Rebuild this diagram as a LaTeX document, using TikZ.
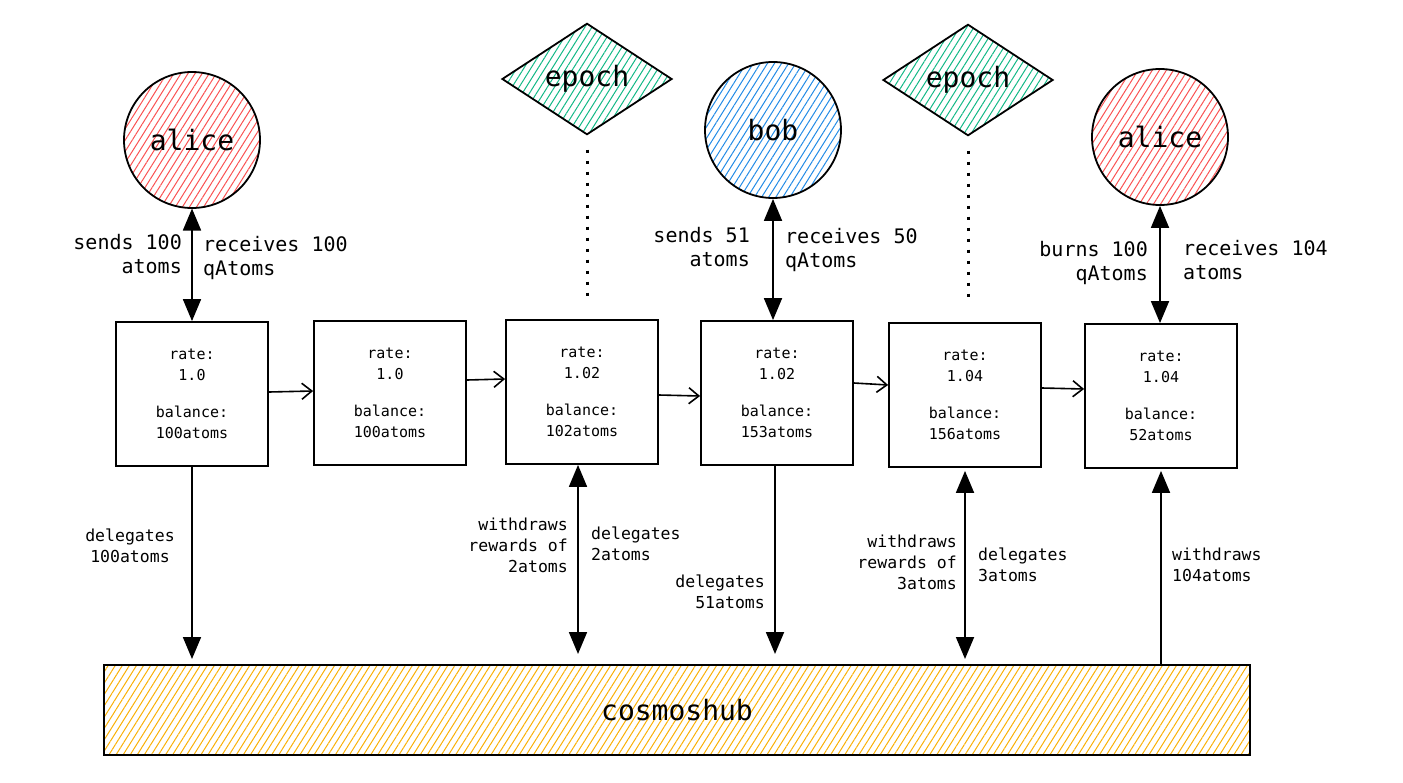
\documentclass[tikz,border=0pt]{standalone}
\usepackage{fontspec}
\setmonofont{DejaVu Sans Mono}
\usetikzlibrary{arrows.meta,shapes.geometric,patterns.meta}

\definecolor{alicered}{HTML}{FA5252}
\definecolor{bobblue}{HTML}{228BE6}
\definecolor{epochgreen}{HTML}{12B886}
\definecolor{hubyellow}{HTML}{FAB005}

\begin{document}
\begin{tikzpicture}
      [%%%%%%%%%%%%%%%%%%%%%%%%%%%%%%
      x=1pt, y=-1pt,
      hatch/.style={pattern={Lines[angle=58,distance=6pt,line width=1pt]}},
      user/.style={circle,draw=black,line width=1.8pt,minimum size=136pt,inner sep=0pt,hatch,
                   font=\ttfamily\fontsize{28}{32}\selectfont},
      epochnode/.style={diamond,draw=black,line width=1.8pt,minimum width=170pt,minimum height=98pt,
                   inner sep=0pt,hatch,pattern color=epochgreen,font=\ttfamily\fontsize{28}{32}\selectfont},
      state/.style={rectangle,draw=black,line width=1.8pt,minimum width=152pt,minimum height=144pt,
                   align=center,font=\ttfamily\fontsize{15}{21}\selectfont},
      hubnode/.style={rectangle,draw=black,line width=2pt,minimum width=1146pt,minimum height=90pt,
                   hatch,pattern color=hubyellow,font=\ttfamily\fontsize{28}{32}\selectfont},
      lab/.style={inner sep=0pt,font=\ttfamily\fontsize{20}{24}\selectfont},
      note/.style={inner sep=0pt,font=\ttfamily\fontsize{16.5}{21}\selectfont},
      chain/.style={-{Straight Barb[length=10pt,width=16pt,line width=1.6pt]},line width=1.6pt},
      both/.style={{Triangle[length=22pt,width=18pt]}-{Triangle[length=22pt,width=18pt]},line width=1.8pt},
      oneway/.style={-{Triangle[length=22pt,width=18pt]},line width=1.8pt},
      tick/.style={line width=3pt,dash pattern=on 3pt off 8pt},
      ]%%%%%%%%%%%%%%%%%%%%%%%%%%%%%%
      \useasboundingbox (0,0) rectangle (1403,782);

      % users and epochs
      \node[user,pattern color=alicered] (alice1) at (192,140) {alice};
      \node[user,pattern color=bobblue ] (bob)    at (773,130) {bob};
      \node[user,pattern color=alicered] (alice2) at (1160,137) {alice};
      \node[epochnode] (epochA) at (587,79) {epoch};
      \node[epochnode] (epochB) at (968,80) {epoch};

      % states of the pool
      \node[state] (st1) at (192,394)  {rate:\\1.0\\[16pt]balance:\\100atoms};
      \node[state] (st2) at (390,393)  {rate:\\1.0\\[16pt]balance:\\100atoms};
      \node[state] (st3) at (582,392)  {rate:\\1.02\\[16pt]balance:\\102atoms};
      \node[state] (st4) at (777,393)  {rate:\\1.02\\[16pt]balance:\\153atoms};
      \node[state] (st5) at (965,395)  {rate:\\1.04\\[16pt]balance:\\156atoms};
      \node[state] (st6) at (1161,396) {rate:\\1.04\\[16pt]balance:\\52atoms};

      \node[hubnode] (hub) at (677,710) {cosmoshub};

      % chain of states
      \draw[chain] ([yshift=2pt]st1.east)  -- ([yshift=2pt]st2.west);
      \draw[chain] ([yshift=13pt]st2.east) -- ([yshift=13pt]st3.west);
      \draw[chain] ([yshift=-3pt]st3.east) -- ([yshift=-3pt]st4.west);
      \draw[chain] ([yshift=10pt]st4.east) -- ([yshift=10pt]st5.west);
      \draw[chain] ([yshift=7pt]st5.east)  -- ([yshift=7pt]st6.west);

      % epochs
      \draw[tick] ([yshift=-14pt]epochA.south) -- ([yshift=18pt]epochA.south |- st3.north);
      \draw[tick] ([yshift=-14pt]epochB.south) -- ([yshift=20pt]epochB.south |- st5.north);

      % users <-> pool
      \draw[both] (alice1.south) -- (alice1.south |- st1.north);
      \draw[both] (bob.south) -- (bob.south |- st4.north);
      \draw[both] (alice2.south) -- (alice2.south |- st6.north);

      \node[lab,anchor=east,align=right] at (182,254)  {sends 100\\atoms};
      \node[lab,anchor=west,align=left]  at (203,258)  {receives 100\\qAtoms};
      \node[lab,anchor=east,align=right] at (750,247)  {sends 51\\atoms};
      \node[lab,anchor=west,align=left]  at (785,250)  {receives 50\\qAtoms};
      \node[lab,anchor=east,align=right] at (1148,263) {burns 100\\qAtoms};
      \node[lab,anchor=west,align=left]  at (1183,260) {receives 104\\atoms};

      % pool <-> cosmoshub
      \draw[oneway,shorten >=5pt] (st1.south) -- (st1.south |- hub.north);
      \draw[both,shorten >=10pt] ([xshift=-4pt]st3.south) -- ([xshift=-4pt]st3.south |- hub.north);
      \draw[oneway,shorten >=10pt] ([xshift=-2pt]st4.south) -- ([xshift=-2pt]st4.south |- hub.north);
      \draw[both,shorten <=3pt,shorten >=5pt] (st5.south) -- (st5.south |- hub.north);
      \draw[oneway,shorten >=2pt] (st6.south |- hub.north) -- (st6.south);

      \node[note,align=center] at (130,546) {delegates\\100atoms};
      \node[note,anchor=east,align=right] at (568,545) {withdraws\\rewards of\\2atoms};
      \node[note,anchor=west,align=left]  at (591,544) {delegates\\2atoms};
      \node[note,anchor=east,align=right] at (765,592) {delegates\\51atoms};
      \node[note,anchor=east,align=right] at (957,562) {withdraws\\rewards of\\3atoms};
      \node[note,anchor=west,align=left]  at (978,565) {delegates\\3atoms};
      \node[note,anchor=west,align=left]  at (1172,565) {withdraws\\104atoms};
    \end{tikzpicture}
\end{document}
